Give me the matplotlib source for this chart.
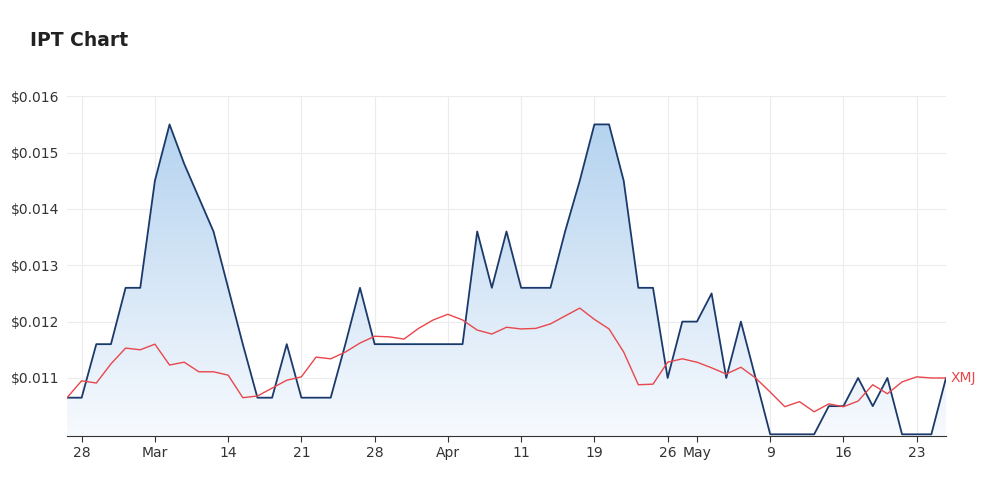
import numpy as np
import matplotlib.pyplot as plt
from matplotlib.patches import Polygon

# IPT close prices (trading days)
ipt = [0.01065, 0.01065, 0.0116, 0.0116, 0.0126, 0.0126, 0.0145, 0.0155, 0.0148, 0.0142,
       0.0136, 0.0126, 0.0116, 0.01065, 0.01065, 0.0116, 0.01065, 0.01065, 0.01065, 0.0116,
       0.0126, 0.0116, 0.0116, 0.0116, 0.0116, 0.0116, 0.0116, 0.0116, 0.0136, 0.0126,
       0.0136, 0.0126, 0.0126, 0.0126, 0.0136, 0.0145, 0.0155, 0.0155, 0.0145, 0.0126,
       0.0126, 0.0110, 0.0120, 0.0120, 0.0125, 0.0110, 0.0120, 0.0110, 0.0100, 0.0100,
       0.0100, 0.0100, 0.0105, 0.0105, 0.0110, 0.0105, 0.0110, 0.0100, 0.0100, 0.0100,
       0.0110]
# XMJ index rebased to IPT
xmj = [0.01065, 0.01095, 0.01091, 0.01125, 0.01153, 0.0115, 0.0116, 0.01123, 0.01128, 0.01111,
       0.01111, 0.01105, 0.01065, 0.01068, 0.01082, 0.01096, 0.01102, 0.01137, 0.01134, 0.01146,
       0.01162, 0.01174, 0.01173, 0.01169, 0.01188, 0.01203, 0.01213, 0.01203, 0.01185, 0.01178,
       0.0119, 0.01187, 0.01188, 0.01196, 0.0121, 0.01224, 0.01204, 0.01187, 0.01146, 0.01088,
       0.01089, 0.01128, 0.01134, 0.01128, 0.01118, 0.01107, 0.01119, 0.011, 0.01075, 0.01049,
       0.01058, 0.0104, 0.01054, 0.01049, 0.01059, 0.01088, 0.01072, 0.01093, 0.01102, 0.011,
       0.011]
tick_pos = [1, 6, 11, 16, 21, 26, 31, 36, 41, 43, 48, 53, 58]
tick_labels = ['28', 'Mar', '14', '21', '28', 'Apr', '11', '19', '26', 'May', '9', '16', '23']
y_ticks = [0.011, 0.012, 0.013, 0.014, 0.015, 0.016]

x = np.arange(len(ipt))
ymin, ymax = 0.00997, 0.016

fig = plt.figure(figsize=(10, 4.91), dpi=100)
ax = fig.add_axes([0.067, 0.112, 0.879, 0.692])
ax.set_xlim(0, len(ipt) - 1)
ax.set_ylim(ymin, ymax)

# gradient fill under the IPT line
grad = np.linspace(0, 1, 256).reshape(-1, 1)
img = ax.imshow(grad, cmap=plt.matplotlib.colors.LinearSegmentedColormap.from_list(
    'g', ['#f7fafe', '#b5d3ef']), aspect='auto', origin='lower',
    extent=[0, len(ipt) - 1, ymin, 0.0155], zorder=1)
poly = Polygon(list(zip(x, ipt)) + [(x[-1], ymin), (0, ymin)], closed=True,
               facecolor='none', edgecolor='none')
ax.add_patch(poly)
img.set_clip_path(poly)

ax.plot(x, ipt, color='#1b3a6b', lw=1.3, zorder=3)
ax.plot(x, xmj, color='#e8474c', lw=1.0, zorder=3)
ax.text(len(ipt) - 0.7, xmj[-1], 'XMJ', color='#e8474c', fontsize=10, va='center')

ax.set_xticks(tick_pos)
ax.set_xticklabels(tick_labels)
ax.set_yticks(y_ticks)
ax.set_yticklabels(['$%.3f' % v for v in y_ticks])
ax.grid(True, color='#ececec', lw=0.8)
ax.set_axisbelow(True)
for s in ['top', 'right', 'left']:
    ax.spines[s].set_visible(False)
ax.spines['bottom'].set_color('#333333')
ax.tick_params(axis='y', length=0, labelsize=10, labelcolor='#333333', pad=4)
ax.tick_params(axis='x', length=4, color='#333333', labelsize=10, labelcolor='#333333')
for lab in ax.get_yticklabels():
    lab.set_horizontalalignment('left')
    lab.set_x(-0.057)

fig.text(0.03, 0.918, 'IPT Chart', fontsize=13.5, fontweight='bold', color='#222222', va='center')
fig.savefig('out.png')
